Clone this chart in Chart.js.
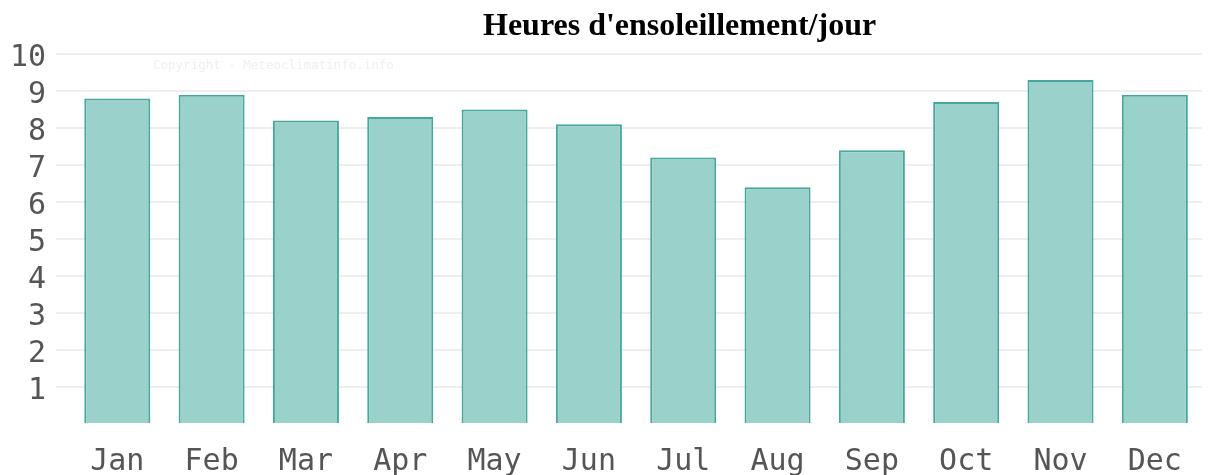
<!DOCTYPE html>
<html>
<head>
<meta charset="utf-8">
<script src="https://cdn.jsdelivr.net/npm/chart.js@4"></script>
<style>
  html, body { margin: 0; padding: 0; background: #fff; }
  #wrap { position: relative; width: 1215px; height: 475px; overflow: hidden; }
  #titre { position: absolute; top: 6px; left: 483px; font: bold 32px "Liberation Serif", serif; color: #000; white-space: nowrap; }
  #copy { position: absolute; top: 57px; left: 153px; font: 12.5px "DejaVu Sans Mono", monospace; color: #f0f0f0; white-space: nowrap; }
  canvas { position: absolute; top: 0; left: 0; }
</style>
</head>
<body>
<div id="wrap">
  <canvas id="soleilChart" width="1215" height="475"></canvas>
  <div id="titre">Heures d'ensoleillement/jour</div>
  <div id="copy">Copyright - Meteoclimatinfo.info</div>
</div>
<script>
const mois = ['Jan', 'Feb', 'Mar', 'Apr', 'May', 'Jun', 'Jul', 'Aug', 'Sep', 'Oct', 'Nov', 'Dec'];
const heures = [8.8, 8.9, 8.2, 8.3, 8.5, 8.1, 7.2, 6.4, 7.4, 8.7, 9.3, 8.9];
const graduations = [1, 2, 3, 4, 5, 6, 7, 8, 9, 10];

const ctx = document.getElementById('soleilChart').getContext('2d');
const soleilChart = new Chart(ctx, {
    type: 'bar',
    data: {
        labels: mois,
        datasets: [{
            label: "Heures d'ensoleillement",
            data: heures,
            backgroundColor: '#9ad2cb',
            borderColor: '#45a89c',
            borderWidth: 2,
            categoryPercentage: 0.7,
            barPercentage: 1
        }]
    },
    options: {
        responsive: false,
        animation: false,
        layout: {
            padding: { top: 54, right: 13, bottom: 0, left: 0 }
        },
        plugins: {
            legend: { display: false },
            tooltip: { enabled: false }
        },
        scales: {
            x: {
                grid: { display: false, drawTicks: false },
                border: { display: false },
                afterFit: (scale) => { scale.height = 51; },
                ticks: {
                    padding: 20,
                    color: '#555',
                    font: { family: 'DejaVu Sans Mono', size: 30 }
                }
            },
            y: {
                min: 0,
                max: 10,
                border: { display: false },
                grid: {
                    color: (c) => c.tick && c.tick.value === 0 ? 'rgba(0,0,0,0)' : '#eeeeee',
                    lineWidth: 2,
                    tickLength: 14
                },
                afterBuildTicks: (axis) => {
                    axis.ticks = [0].concat(graduations).map(v => ({ value: v }));
                },
                ticks: {
                    autoSkip: false,
                    padding: 10,
                    labelOffset: 4,
                    color: '#555',
                    font: { family: 'DejaVu Sans Mono', size: 30 },
                    callback: (v) => v === 0 ? '' : v
                }
            }
        }
    }
});
</script>
</body>
</html>
